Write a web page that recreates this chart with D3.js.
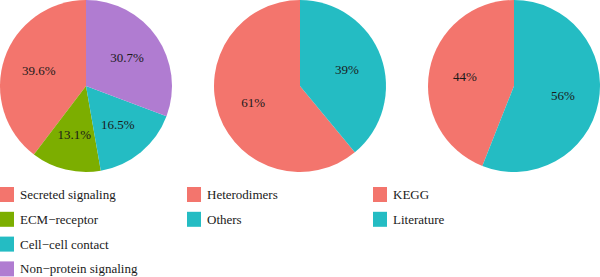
<!DOCTYPE html>
<html><head><meta charset="utf-8">
<script src="https://cdn.jsdelivr.net/npm/d3@7"></script>
</head><body>
<svg id="c" width="600" height="277" style="position:absolute;left:0;top:0"></svg>
<script>
const cats1 = ["Secreted signaling","ECM\u2212receptor","Cell\u2212cell contact","Non\u2212protein signaling"];
const vals1 = [39.6, 13.1, 16.5, 30.7];
const labels1 = ["39.6%","13.1%","16.5%","30.7%"];
const cats2 = ["Heterodimers","Others"];
const vals2 = [61, 39];
const labels2 = ["61%","39%"];
const cats3 = ["KEGG","Literature"];
const vals3 = [44, 56];
const labels3 = ["44%","56%"];
const colors1 = ["#F3756D","#7CAE00","#24BCC3","#B07CD1"];
const colors2 = ["#F3756D","#24BCC3"];

const svg = d3.select("#c");

function pie(cx, cy, r, cats, vals, labels, colors, legendX){
  const data = cats.map((c,i)=>({c, v:vals[i], l:labels[i], col:colors[i]}));
  const p = d3.pie().value(d=>d.v).sort(null).startAngle(0).endAngle(-2*Math.PI);
  const arc = d3.arc().innerRadius(0).outerRadius(r);
  const g = svg.append("g").attr("transform",`translate(${cx},${cy})`);
  const arcs = p(data);
  g.selectAll("path").data(arcs).join("path").attr("d",arc).attr("fill",d=>d.data.col);
  const la = d3.arc().innerRadius(r*0.58).outerRadius(r*0.58);
  arcs.forEach(d=>{
    const [x,y] = la.centroid(d);
    svg.append("text").attr("x",cx+x).attr("y",cy+y+4.5)
      .attr("text-anchor","middle")
      .style("font-family",`"Liberation Serif"`).attr("font-size",13).attr("fill","#1a1a1a")
      .text(d.data.l);
  });
  data.forEach((d,i)=>{
    svg.append("rect").attr("x",legendX).attr("y",187+i*24.8).attr("width",14).attr("height",15).attr("fill",d.col);
    svg.append("text").attr("x",legendX+20).attr("y",187+i*24.8+12)
      .style("font-family",`"Liberation Serif"`).attr("font-size",13).attr("fill","#1a1a1a").text(d.c);
  });
}
function draw(){
  pie(86,86,86,cats1,vals1,labels1,colors1,0);
  pie(300,86,86,cats2,vals2,labels2,colors2,187);
  pie(514,86,86,cats3,vals3,labels3,colors2,373);
}
draw();
</script>
</body></html>
